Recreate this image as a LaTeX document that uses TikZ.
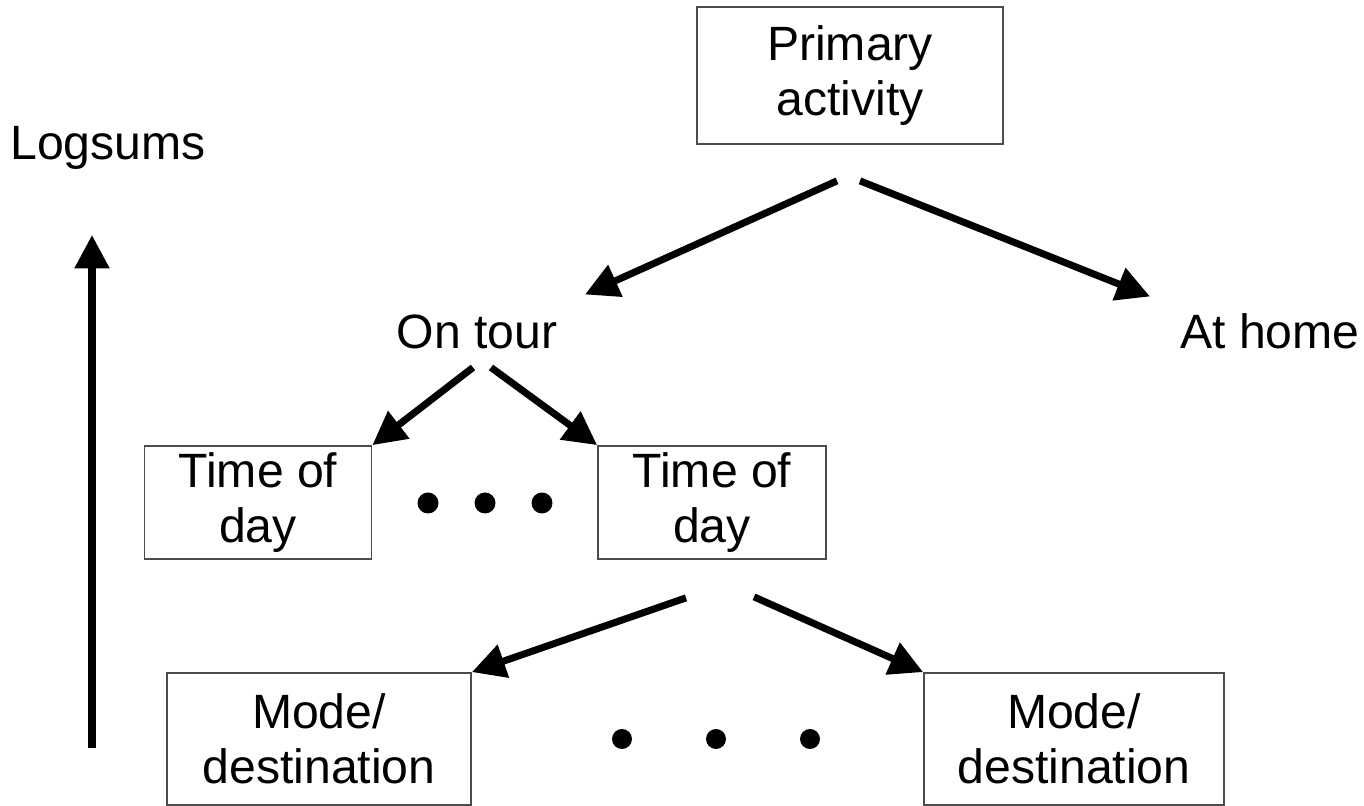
\documentclass[tikz,border=0pt]{standalone}
\usepackage{fontspec}
\setmainfont{Liberation Sans}
\usetikzlibrary{positioning,arrows.meta}

\begin{document}
\begin{tikzpicture}
\tikzstyle{box}=[rectangle, draw=black!70, line width=0.5pt, align=center, inner sep=0pt, font=\fontsize{13.7}{15.5}\selectfont]
\tikzstyle{word}=[inner sep=0pt, font=\fontsize{13.7}{15.5}\selectfont]
\tikzstyle{connect}=[-{Triangle[length=9.5pt,width=9.5pt]}, line width=2pt]
\tikzstyle{dot}=[circle, fill=black, inner sep=0pt, minimum size=0.21cm]
  \useasboundingbox (0,0) rectangle (13.64,-8.06);
  \node[box, minimum width=3.06cm, minimum height=1.37cm] (primary) at (8.50,-0.755) {Primary\\activity};
  \node[word] (ontour) [on grid, below left=2.56cm and 3.73cm of primary] {On tour};
  \node[word] (athome) [on grid, below right=2.56cm and 4.20cm of primary] {At home};
  \node[box, minimum width=2.27cm, minimum height=1.13cm] (tod1) [on grid, below left=1.71cm and 2.19cm of ontour] {Time of\\day};
  \node[box, minimum width=2.28cm, minimum height=1.13cm] (tod2) [on grid, below right=1.71cm and 2.35cm of ontour] {Time of\\day};
  \node[box, minimum width=3.04cm, minimum height=1.32cm] (mode1) [on grid, below left=2.365cm and 3.93cm of tod2] {Mode/\\destination};
  \node[box, minimum width=3.0cm, minimum height=1.32cm] (mode2) [on grid, below right=2.365cm and 3.62cm of tod2] {Mode/\\destination};

  \node[dot] (dota1) at (4.28,-5.03) {};
  \node[dot] (dota2) at (4.85,-5.03) {};
  \node[dot] (dota3) at (5.42,-5.03) {};
  \node[dot, minimum size=0.2cm] (dotb1) at (6.22,-7.39) {};
  \node[dot, minimum size=0.2cm] (dotb2) at (7.16,-7.39) {};
  \node[dot, minimum size=0.2cm] (dotb3) at (8.10,-7.39) {};

  \node[word] (logsums) at (1.08,-1.48) {Logsums};
  \coordinate (low) at (0.92,-7.48);
  \coordinate (high) at (0.92,-2.35);

  \path ([shift={(-0.13,-0.36)}]primary.south) edge [connect] ([shift={(1.08,0.37)}]ontour.center)
	([shift={(0.10,-0.36)}]primary.south) edge [connect] ([shift={(-1.20,0.35)}]athome.center)
	([shift={(-0.04,-0.36)}]ontour.center) edge [connect] (tod1.north east)
	([shift={(0.14,-0.36)}]ontour.center) edge [connect] (tod2.north west)
	([shift={(-0.26,-0.38)}]tod2.south) edge [connect] (mode1.north east)
	([shift={(0.42,-0.37)}]tod2.south) edge [connect] (mode2.north west)
	(low) edge [connect] (high);
\end{tikzpicture}
\end{document}
